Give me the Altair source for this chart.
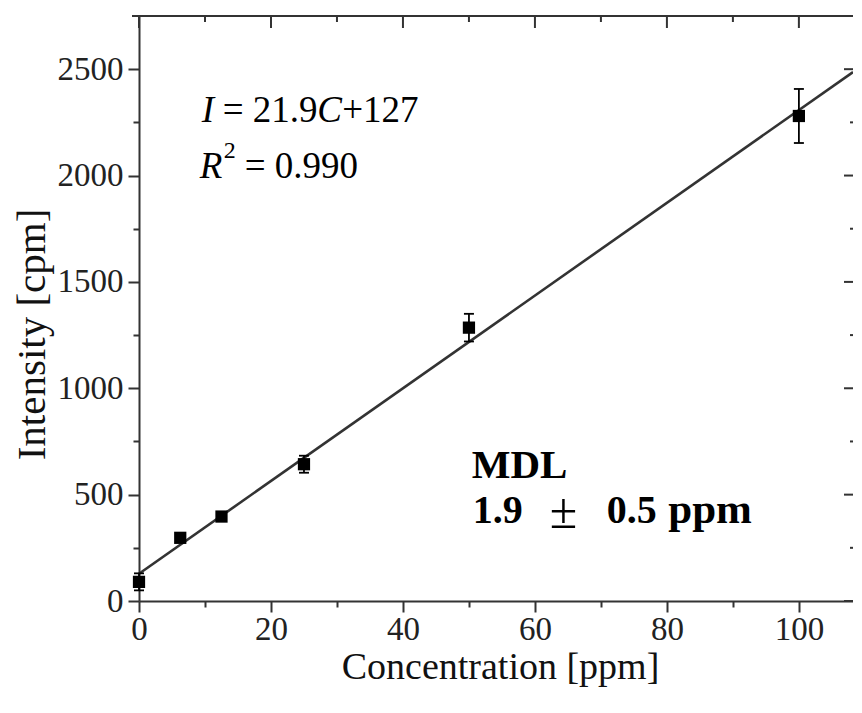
import altair as alt
import pandas as pd

# ---- data ----
conc = [0, 6.25, 12.5, 25, 50, 100]
intensity = [90, 297, 397, 643, 1285, 2280]
err = [40, 18, 15, 40, 65, 127]

x_ticks = [0, 10, 20, 30, 40, 50, 60, 70, 80, 90, 100]
y_ticks = [0, 250, 500, 750, 1000, 1250, 1500, 1750, 2000, 2250, 2500]
top_major = [0, 20, 40, 60, 80, 100]
top_minor = [10, 30, 50, 70, 90]
right_major = [0, 500, 1000, 1500, 2000, 2500]
right_minor = [250, 750, 1250, 1750, 2250]

W, H = 714, 585
X_MAX = 108.2
Y_MAX = 2750

df = pd.DataFrame({
    "conc": conc,
    "intensity": intensity,
    "lo": [v - e for v, e in zip(intensity, err)],
    "hi": [v + e for v, e in zip(intensity, err)],
})

FONT = "Liberation Serif"
AX = "#333333"

xscale = alt.Scale(domain=[0, X_MAX], nice=False, zero=False)
yscale = alt.Scale(domain=[0, Y_MAX], nice=False, zero=False)

xaxis = alt.Axis(
    values=x_ticks, title="Concentration [ppm]", grid=False,
    tickSize={"condition": {"test": "datum.value % 20 === 0", "value": 11}, "value": 6},
    labelExpr="datum.value % 20 === 0 ? format(datum.value, 'd') : ''",
    labelOverlap=False, labelFlush=False, labelPadding=1,
    labelFont=FONT, labelFontSize=33, labelColor="#222222",
    titleFont=FONT, titleFontSize=38, titleFontWeight="normal", titleColor="#111111",
    titleX=361, titleY=77, titleBaseline="alphabetic",
    domainColor=AX, domainWidth=2, tickColor=AX, tickWidth=2,
)
yaxis = alt.Axis(
    values=y_ticks, title="Intensity [cpm]", grid=False,
    tickSize={"condition": {"test": "datum.value % 500 === 0", "value": 11}, "value": 6},
    labelExpr="datum.value % 500 === 0 ? format(datum.value, 'd') : ''",
    labelOverlap=False, labelFlush=False, labelPadding=5,
    labelFont=FONT, labelFontSize=33, labelColor="#222222",
    titleFont=FONT, titleFontSize=41, titleFontWeight="normal", titleColor="#111111",
    titleX=-95, titleY=318, titleBaseline="alphabetic", titleAngle=270,
    domainColor=AX, domainWidth=2, tickColor=AX, tickWidth=2,
)

X = lambda f: alt.X(f, type="quantitative", scale=xscale, axis=xaxis)
Y = lambda f: alt.Y(f, type="quantitative", scale=yscale, axis=yaxis)

base = alt.Chart(df)

fit = base.transform_regression(
    "conc", "intensity", extent=[0, X_MAX]
).mark_line(color="#333333", strokeWidth=2.6).encode(x=X("conc"), y=Y("intensity"))

bars = base.mark_rule(color="black", strokeWidth=1.8).encode(x=X("conc"), y=Y("lo"), y2="hi")
cap_lo = base.mark_tick(orient="horizontal", size=10, thickness=1.8, color="black", opacity=1).encode(
    x=X("conc"), y=Y("lo"))
cap_hi = base.mark_tick(orient="horizontal", size=10, thickness=1.8, color="black", opacity=1).encode(
    x=X("conc"), y=Y("hi"))
pts = base.mark_square(size=150, color="black", opacity=1).encode(x=X("conc"), y=Y("intensity"))

# mirror ticks (inward) on top and right, plus top frame line
def xtick_layer(vals, length):
    return alt.Chart(pd.DataFrame({"t": vals})).mark_rule(color=AX, strokeWidth=2).encode(
        x=X("t"), y=alt.value(0), y2=alt.value(length))

def ytick_layer(vals, length):
    return alt.Chart(pd.DataFrame({"t": vals})).mark_rule(color=AX, strokeWidth=2).encode(
        y=Y("t"), x=alt.value(W - length), x2=alt.value(W))

top_line = alt.Chart(pd.DataFrame({"a": [0]})).mark_rule(color=AX, strokeWidth=2).encode(
    x=alt.value(-7), x2=alt.value(W), y=alt.value(0))

one = pd.DataFrame({"a": [0]})

def label(text, x, y, size=36, style="normal", weight="normal"):
    return alt.Chart(one).mark_text(
        text=text, font=FONT, fontSize=size, fontStyle=style, fontWeight=weight,
        align="left", baseline="alphabetic", color="black",
    ).encode(x=alt.datum(x), y=alt.datum(y))

texts = [
    label("I", 9.50, 2252, size=37, style="italic"),
    label("= 21.9", 12.69, 2252, size=37),
    label("C", 27.0, 2252, size=37, style="italic"),
    label("+127", 30.8, 2252, size=37),
    label("R", 9.2, 1988, size=37, style="italic"),
    label("2", 12.84, 2082, size=24),
    label("= 0.990", 16.02, 1988, size=37),
    label("MDL", 50.43, 578, size=41, weight="bold"),
    label("1.9", 50.58, 367, size=40, weight="bold"),
    label("±", 62.25, 345, size=50),
    label("0.5", 70.9, 367, size=40, weight="bold"),
    label("ppm", 80.2, 367, size=43, weight="bold"),
]

chart = alt.layer(
    top_line,
    xtick_layer(top_major, 12), xtick_layer(top_minor, 6),
    ytick_layer(right_major, 9), ytick_layer(right_minor, 3),
    fit, bars, cap_lo, cap_hi, pts, *texts,
).properties(
    width=W, height=H,
    autosize=alt.AutoSizeParams(type="none"),
    padding={"left": 131, "top": 8, "right": 0, "bottom": 94},
    background="white",
).configure_view(stroke=None)

chart.save("out.html", embed_options={"renderer": "svg", "actions": False})
